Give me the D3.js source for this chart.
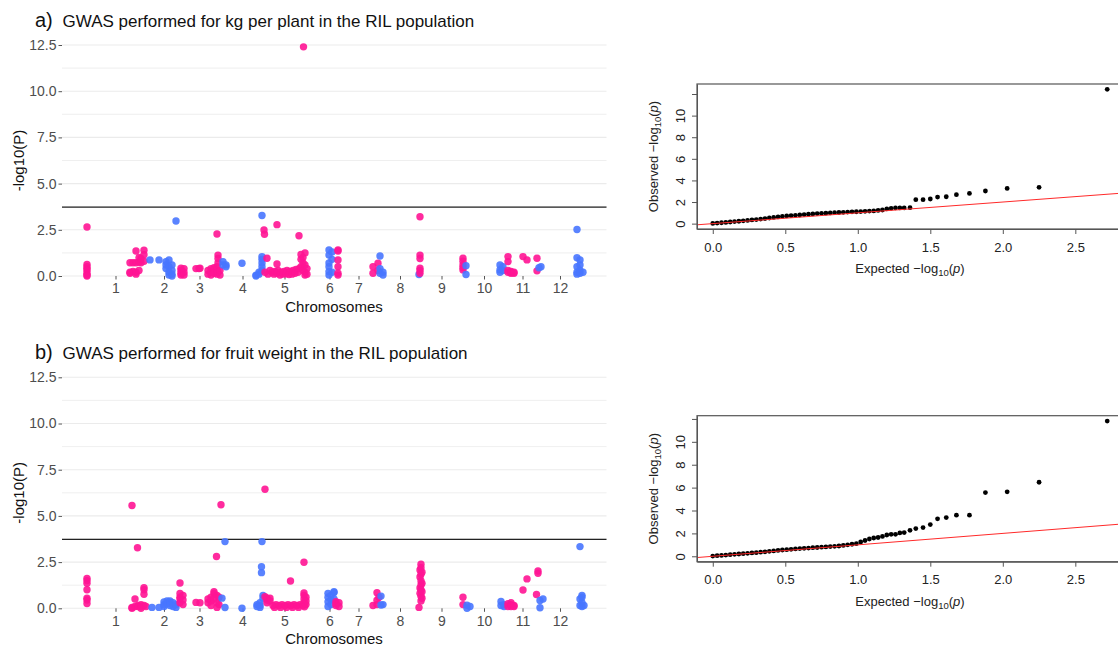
<!DOCTYPE html>
<html><head><meta charset="utf-8">
<script src="https://cdn.jsdelivr.net/npm/d3@7"></script>
<style>body{margin:0;background:#fff}svg{display:block;font-family:"Liberation Sans",Arial,sans-serif}</style>
</head><body><svg id="c" width="1118" height="646"></svg>
<script>
// ---------- data ----------
const chromLabels = ["1","2","3","4","5","6","7","8","9","10","11","12"];
const chromTickPos = [57,154,225,311,395,485,543,626,709,794,871,946];
const manYTicks = [0,2.5,5,7.5,10,12.5];
const threshold = 3.73;

// [cumulative position, -log10(P)]
const kgPink = [[0,2.65],[0,0.62],[0,0.5],[0,0.4],[0,0.3],[0,0.15],[0,0.05],[0,0.0],
[86,0.72],[86,0.2],[86,0.15],[92,0.72],[92,0.25],[98,0.72],[98,1.35],[98,0.2],[98,0.1],[104,0.75],[104,1.0],[104,0.3],[108,0.95],[108,0.72],[114,1.4],[114,1.15],[114,0.8],
[188,0.42],[188,0.3],[188,0.15],[188,0.05],[194,0.4],[194,0.2],[194,0.05],
[218,0.4],[224,0.4],[226,0.42],
[242,0.3],[242,0.1],[248,0.4],[248,0.2],[248,0.05],[254,0.45],[254,0.35],[254,0.15],[260,2.27],[260,0.5],[260,0.3],[260,0.1],[262,1.13],[262,0.95],[262,0.7],[262,0.2],[266,0.3],[266,0.05],
[354,2.49],[355,2.26],[360,0.96],[356,0.2],[362,0.1],[366,0.3],[380,2.78],[380,0.65],
[370,0.2],[376,0.25],[382,0.3],[388,0.2],[394,0.25],[400,0.3],[406,0.25],[412,0.3],[418,0.35],[424,2.18],[424,0.4],[428,0.5],[428,0.9],[428,1.17],[432,0.7],[432,0.3],[432,1.0],[433,12.4],[436,1.25],[436,0.6],[436,0.2],[436,0.05],[440,0.4],[440,0.1],
[374,0.1],[380,0.15],[386,0.05],[392,0.1],[398,0.12],[404,0.08],[410,0.1],[416,0.15],[422,0.2],
[502,1.41],[502,1.35],[502,0.87],[502,0.5],[502,0.15],[502,0.05],
[572,0.5],[572,0.15],[582,0.69],[582,0.3],
[666,3.21],[666,1.13],[666,0.95],[666,0.42],[666,0.3],[666,0.15],
[752,0.96],[752,0.8],[752,0.6],[752,0.45],[752,0.33],
[842,1.05],[842,0.78],[842,0.3],[842,0.2],[848,0.15],[848,0.2],[848,0.25],[854,0.2],[854,0.15],
[872,1.05],[880,0.87],[900,0.96],[900,0.28]];
const kgBlue = [[126,0.87],[144,0.87],[158,0.78],[158,0.6],[158,0.4],[164,0.87],[164,0.5],[164,0.2],[164,0.05],[170,0.6],[170,0.3],[170,0.1],[170,0.0],
[178,2.98],[272,0.78],[272,0.6],[278,0.6],[278,0.5],[310,0.69],
[338,0.05],[338,0.0],[344,0.2],[344,0.1],[350,3.27],[350,1.05],[350,0.9],[350,0.7],[350,0.5],[350,0.3],
[484,1.41],[484,1.13],[484,0.7],[484,0.5],[484,0.23],[484,0.05],[490,1.3],[490,0.9],[490,0.2],
[586,1.08],[586,0.4],[586,0.15],[592,0.2],[592,0.05],[664,0.08],[758,0.56],[758,0.08],
[826,0.6],[826,0.33],[826,0.2],[832,0.5],[832,0.3],[904,0.45],[908,0.5],
[980,2.52],[980,0.99],[980,0.5],[980,0.2],[980,0.1],[986,0.87],[986,0.6],[986,0.3],[986,0.15],[992,0.2]];

const fwPink = [[0,1.62],[0,1.5],[0,1.35],[0,1.0],[0,0.55],[0,0.45],[0,0.26],
[90,5.56],[90,0.05],[90,0.0],[96,0.5],[96,0.1],[101,3.28],[102,0.15],[102,0.1],[108,0.2],[108,0.1],[108,0.0],[114,1.12],[114,1.0],[114,0.76],[114,0.15],[118,0.1],
[186,1.37],[186,0.8],[186,0.6],[186,0.5],[186,0.3],[192,0.7],[192,0.45],[192,0.2],
[218,0.32],[226,0.3],
[242,0.5],[242,0.3],[248,0.6],[248,0.4],[248,0.15],[254,0.9],[254,0.8],[254,0.5],[259,2.8],[260,0.7],[260,0.3],[260,0.05],[264,0.6],[264,0.2],[268,5.6],
[356,6.44],[356,0.63],[360,0.55],[360,0.45],[360,0.3],[366,0.55],[366,0.4],
[372,0.15],[378,0.2],[384,0.15],[390,0.2],[396,0.15],[402,0.2],[408,0.15],[414,0.2],[420,0.15],[426,0.2],[432,0.15],[438,0.2],[375,0.05],[387,0.05],[399,0.05],[411,0.05],[423,0.05],[435,0.08],
[407,1.48],[434,2.49],[434,0.83],[434,0.7],[434,0.5],[434,0.3],[438,0.6],[438,0.4],
[498,0.36],[498,0.25],[498,0.15],[504,0.3],[504,0.1],
[572,0.15],[580,0.84],[580,0.44],[580,0.2],[584,0.6],
[668,2.38],[668,2.2],[666,2.07],[670,1.95],[668,1.84],[666,1.7],[668,1.48],[670,1.35],[668,1.26],[666,1.1],[668,0.99],[670,0.9],[666,0.81],[668,0.65],[670,0.54],[668,0.4],[664,0.05],
[752,0.6],[752,0.2],
[842,0.1],[842,0.25],[848,0.3],[848,0.2],[848,0.1],[854,0.15],[854,0.1],
[872,0.99],[880,1.59],[899,0.75],[902,2.02],[902,1.9]];
const fwBlue = [[130,0.05],[144,0.05],[154,0.35],[154,0.2],[154,0.1],[160,0.4],[160,0.25],[166,0.4],[166,0.3],[166,0.15],[172,0.3],[172,0.1],[178,0.2],[178,0.05],
[270,0.55],[276,3.61],[276,0.04],[310,0.0],
[340,0.2],[340,0.1],[346,0.3],[346,0.15],[346,0.05],[349,2.25],[349,1.93],[350,3.61],[352,0.7],[352,0.55],
[482,0.81],[482,0.6],[482,0.35],[482,0.1],[488,0.7],[488,0.45],[488,0.2],[494,0.9],[494,0.85],[494,0.5],
[588,0.66],[588,0.18],[592,0.2],[760,0.17],[760,0.0],[766,0.1],
[828,0.37],[828,0.15],[834,0.2],[834,0.1],[906,0.42],[906,0.03],[912,0.5],
[986,3.34],[986,0.5],[986,0.15],[990,0.7],[990,0.6],[990,0.3],[990,0.1],[994,0.15]];

// QQ: [expected -log10(p), observed -log10(p)]
const qqKg = [[0.00,0.02],[0.03,0.05],[0.06,0.08],[0.09,0.11],[0.12,0.15],[0.15,0.19],[0.18,0.22],[0.21,0.26],[0.24,0.30],[0.27,0.34],[0.30,0.38],[0.33,0.42],[0.36,0.47],[0.39,0.52],[0.42,0.57],[0.45,0.62],[0.48,0.67],[0.51,0.71],[0.54,0.74],[0.57,0.77],[0.60,0.80],[0.63,0.84],[0.66,0.87],[0.69,0.90],[0.72,0.93],[0.75,0.95],[0.78,0.97],[0.81,0.99],[0.84,1.01],[0.87,1.03],[0.90,1.05],[0.93,1.07],[0.96,1.09],[0.99,1.10],[1.02,1.12],[1.05,1.14],[1.08,1.16],[1.11,1.18],[1.14,1.22],[1.17,1.26],[1.20,1.36],[1.23,1.42],[1.26,1.45],[1.29,1.45],[1.32,1.45],[1.36,1.48],[1.40,2.22],[1.45,2.22],[1.50,2.28],[1.55,2.46],[1.61,2.49],[1.68,2.68],[1.77,2.80],[1.88,3.02],[2.03,3.26],[2.25,3.36],[2.72,12.43]];
const qqFw = [[0.00,0.02],[0.03,0.05],[0.06,0.08],[0.09,0.11],[0.12,0.14],[0.15,0.17],[0.18,0.20],[0.21,0.23],[0.24,0.26],[0.27,0.29],[0.30,0.32],[0.33,0.36],[0.36,0.39],[0.39,0.43],[0.42,0.47],[0.45,0.51],[0.48,0.55],[0.51,0.58],[0.54,0.61],[0.57,0.64],[0.60,0.67],[0.63,0.70],[0.66,0.72],[0.69,0.75],[0.72,0.77],[0.75,0.80],[0.78,0.82],[0.81,0.85],[0.84,0.87],[0.87,0.90],[0.90,0.95],[0.93,1.00],[0.96,1.05],[0.99,1.10],[1.02,1.25],[1.05,1.38],[1.08,1.51],[1.11,1.60],[1.14,1.64],[1.17,1.74],[1.20,1.86],[1.23,1.92],[1.26,1.92],[1.29,2.04],[1.32,2.07],[1.36,2.27],[1.40,2.42],[1.45,2.51],[1.50,2.77],[1.55,3.27],[1.61,3.38],[1.68,3.59],[1.77,3.59],[1.88,5.57],[2.03,5.63],[2.25,6.47],[2.72,11.81]];
const qqXTicks = [0,0.5,1,1.5,2,2.5];
const qqYTicks = [0,2,4,6,8,10,12];

// ---------- drawing ----------
const svg = d3.select("#c");
const PINK = "#FF1493", BLUE = "#4876FF";

function manhattan(cfg) {
  const g = svg.append("g");
  const x = d3.scaleLinear().domain([-50, 1039]).range([62, 606.5]);
  const y = d3.scaleLinear().domain([0, 12.5]).range([cfg.bottom, cfg.top]);
  d3.range(0, 12.51, 1.25).forEach((v, i) => {
    g.append("line").attr("x1", 62).attr("x2", 606.5).attr("y1", y(v)).attr("y2", y(v))
      .attr("stroke", "#EBEBEB").attr("stroke-width", i % 2 ? 0.8 : 1.1);
  });
  const ya = g.append("g").attr("transform", "translate(62,0)")
    .call(d3.axisLeft(y).tickValues(manYTicks).tickFormat(d3.format(".1f")).tickSize(3.5).tickPadding(2));
  const xa = g.append("g").attr("transform", `translate(0,${cfg.bottom})`)
    .call(d3.axisBottom(x).tickValues(chromTickPos).tickFormat((d, i) => chromLabels[i]).tickSize(3.5).tickPadding(4));
  [ya, xa].forEach(a => {
    a.select(".domain").remove();
    a.selectAll("line").attr("stroke", "#555");
    a.selectAll("text").attr("fill", "#4D4D4D").style("font-size", "14px").style("font-family", "Liberation Sans, Arial, sans-serif");
  });
  g.append("line").attr("x1", 62).attr("x2", 606.5).attr("y1", y(threshold)).attr("y2", y(threshold))
    .attr("stroke", "#222").attr("stroke-width", 1.2);
  const pts = cfg.pink.map(d => [d[0], d[1], PINK]).concat(cfg.blue.map(d => [d[0], d[1], BLUE]))
    .sort((a, b) => a[0] - b[0]);
  g.append("g").selectAll("circle").data(pts).join("circle")
    .attr("cx", d => x(d[0])).attr("cy", d => y(d[1])).attr("r", 3.7)
    .attr("fill", d => d[2]).attr("fill-opacity", 0.9);
  g.append("text").attr("x", 35).attr("y", cfg.titleY).style("font-size", "20px").attr("fill", "#111").text(cfg.letter);
  g.append("text").attr("x", 62.5).attr("y", cfg.titleY).style("font-size", "17px").attr("fill", "#111").text(cfg.title);
  g.append("text").attr("transform", `translate(23.5,${(cfg.top + cfg.bottom) / 2}) rotate(-90)`)
    .attr("text-anchor", "middle").style("font-size", "15px").attr("fill", "#111").text("-log10(P)");
  g.append("text").attr("x", 334).attr("y", cfg.bottom + 36).attr("text-anchor", "middle")
    .style("font-size", "15px").attr("fill", "#111").text("Chromosomes");
}

function mathLabel(sel, prefix) {
  sel.append("tspan").text(prefix + "\u2212log");
  sel.append("tspan").attr("dy", 3).style("font-size", "9.5px").text("10");
  sel.append("tspan").attr("dy", -3).text("(");
  sel.append("tspan").style("font-style", "italic").text("p");
  sel.append("tspan").text(")");
}

function qq(cfg) {
  const g = svg.append("g");
  const xmax = d3.max(cfg.data, d => d[0]), ymax = d3.max(cfg.data, d => d[1]);
  const x = d3.scaleLinear().domain([-0.04 * xmax, 1.04 * xmax]).range([697, 1123]);
  const y = d3.scaleLinear().domain([-0.04 * ymax, 1.04 * ymax]).range([cfg.bottom, cfg.top]);
  const clipId = "clip" + Math.round(cfg.top);
  g.append("clipPath").attr("id", clipId).append("rect")
    .attr("x", 697).attr("y", cfg.top).attr("width", 426).attr("height", cfg.bottom - cfg.top);
  g.append("g").selectAll("circle").data(cfg.data).join("circle")
    .attr("cx", d => x(d[0])).attr("cy", d => y(d[1])).attr("r", 2.4).attr("fill", "#000");
  const lo = x.domain()[0], hi = x.domain()[1];
  g.append("line").attr("clip-path", `url(#${clipId})`)
    .attr("x1", x(lo)).attr("y1", y(lo)).attr("x2", x(hi)).attr("y2", y(hi))
    .attr("stroke", "#FF2A2A").attr("stroke-width", 1);
  g.append("rect").attr("x", 697).attr("y", cfg.top).attr("width", 426).attr("height", cfg.bottom - cfg.top)
    .attr("fill", "none").attr("stroke", "#555").attr("stroke-width", 1.2);
  const xa = g.append("g").attr("transform", `translate(0,${cfg.bottom})`)
    .call(d3.axisBottom(x).tickValues(qqXTicks).tickFormat(d3.format(".1f")).tickSize(5).tickSizeOuter(0).tickPadding(8.5));
  const ya = g.append("g").attr("transform", "translate(697,0)")
    .call(d3.axisLeft(y).tickValues(qqYTicks).tickFormat(d => d === 12 ? "" : d).tickSize(5).tickSizeOuter(0));
  ya.selectAll("text").attr("transform", "rotate(-90)").attr("x", 0).attr("y", -12).attr("dy", 0).attr("text-anchor", "middle");
  [xa, ya].forEach(a => {
    a.select(".domain").attr("stroke", "#555");
    a.selectAll("line").attr("stroke", "#555");
    a.selectAll("text").attr("fill", "#222").style("font-size", "13px").style("font-family", "Liberation Sans, Arial, sans-serif");
  });
  const xl = g.append("text").attr("x", 910).attr("y", cfg.bottom + 44).attr("text-anchor", "middle")
    .style("font-size", "13px").attr("fill", "#222");
  mathLabel(xl, "Expected  ");
  const yl = g.append("text").attr("transform", `translate(658,${(cfg.top + cfg.bottom) / 2}) rotate(-90)`)
    .attr("text-anchor", "middle").style("font-size", "13px").attr("fill", "#222");
  mathLabel(yl, "Observed  ");
}

manhattan({top: 45, bottom: 276, pink: kgPink, blue: kgBlue, titleY: 27.3, letter: "a)",
  title: "GWAS performed for kg per plant in the RIL population"});
manhattan({top: 377.3, bottom: 608.3, pink: fwPink, blue: fwBlue, titleY: 359.3, letter: "b)",
  title: "GWAS performed for fruit weight in the RIL population"});
qq({top: 84, bottom: 229, data: qqKg});
qq({top: 415.7, bottom: 561.7, data: qqFw});
</script></body></html>
